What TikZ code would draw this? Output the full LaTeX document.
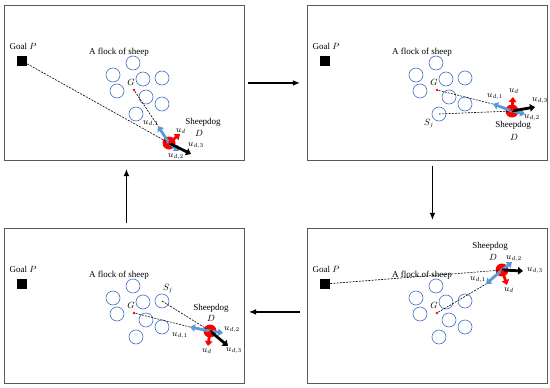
\documentclass[tikz,border=0pt]{standalone}
\usepackage{fontspec}
\setmainfont{Liberation Serif}
\usetikzlibrary{positioning,arrows.meta}
\definecolor{sblue}{HTML}{4472C4}
\definecolor{ablue}{HTML}{5B9BD5}
\definecolor{cframe}{HTML}{595959}
\tikzset{
  panel/.style={draw=cframe, line width=0.9pt, anchor=north west, minimum width=240pt, minimum height=155pt, inner sep=0pt},
  sheep/.style={circle, draw=sblue, line width=0.6pt, minimum size=14pt, inner sep=0pt},
  goal/.style={fill=black, minimum size=10pt, inner sep=0pt},
  dog/.style={circle, fill=red, minimum size=13pt, inner sep=0pt},
  cen/.style={circle, fill=red, minimum size=2.8pt, inner sep=0pt},
  lbl/.style={font=\fontsize{9}{10}\selectfont, inner sep=0.5pt},
  guide/.style={dash pattern=on 2pt off 1.2pt, line width=0.6pt},
  vel/.style={-{Triangle[length=5pt,width=7.5pt]}, line width=2.8pt},
  flow/.style={-{Latex[length=2.5mm,width=2mm]}, line width=1.2pt},
}
% goal, flock and centre G of one panel
\newcommand{\flock}{%
  \node[lbl] (goallbl) at (19,41) {Goal $P$};
  \node[goal] (goal) at (18,56) {};
  \node[lbl] (flocklbl) at (115,47) {A flock of sheep};
  \foreach \x/\y [count=\i] in {129/58,109/70,139/74,158/73,113/86,142/92,158/99,132/109}
    \node[sheep] (s\i) at (\x,\y) {};
  \node[cen] (g) at (130,85) {};
  \node[lbl] (glbl) at (127,77) {$G$};
}

\begin{document}
\begin{tikzpicture}[x=1pt, y=-1pt]
  \useasboundingbox (0,0) rectangle (550,388);
  % panel 1
  \begin{scope}[shift={(4,5)}]
    \node[panel] (p1) at (0,0) {};
    \flock
    \node[dog] (dog) at (165,138) {};
    \coordinate (h1) at (154,121); \coordinate (h2) at (175,146);
    \coordinate (h3) at (187,149); \coordinate (hd) at (176,129);
    \draw[guide] (goal) -- (dog.center);
    \draw[guide] (g) -- (h1);
    \draw[vel, ablue] (dog.center) -- (h1);
    \draw[vel, ablue] (dog.center) -- (h2);
    \draw[vel, black] (dog.center) -- (h3);
    \draw[vel, red] (dog.center) -- (hd);
    \node[lbl] (l1) at (147,119) {$u_{d,1}$};
    \node[lbl] (l2) at (172,152) {$u_{d,2}$};
    \node[lbl] (l3) at (192,141) {$u_{d,3}$};
    \node[lbl] (ld) at (177,126) {$u_{d}$};
    \node[lbl] (dlbl) at (199,117) {Sheepdog};
    \node[lbl] (dname) at (195,128) {$D$};
  \end{scope}
  % panel 2
  \begin{scope}[shift={(307,5)}]
    \node[panel] (p2) at (0,0) {};
    \flock
    \node[dog] (dog) at (205,106) {};
    \coordinate (h1) at (186,99); \coordinate (h2) at (218,109);
    \coordinate (h3) at (228,102); \coordinate (hd) at (206,92);
    \draw[guide] (g) -- (h1);
    \draw[guide] (s8.center) -- (dog.center);
    \draw[vel, ablue] (dog.center) -- (h1);
    \draw[vel, ablue] (dog.center) -- (h2);
    \draw[vel, black] (dog.center) -- (h3);
    \draw[vel, red] (dog.center) -- (hd);
    \node[lbl] (l1) at (188,92) {$u_{d,1}$};
    \node[lbl] (l2) at (225,113) {$u_{d,2}$};
    \node[lbl] (l3) at (233,96) {$u_{d,3}$};
    \node[lbl] (ld) at (207,86) {$u_{d}$};
    \node[lbl] (dlbl) at (206,120) {Sheepdog};
    \node[lbl] (dname) at (207,132) {$D$};
    \node[lbl] (sj) at (122,119) {$S_j$};
  \end{scope}
  % panel 3
  \begin{scope}[shift={(307,228)}]
    \node[panel] (p3) at (0,0) {};
    \flock
    \node[dog] (dog) at (195,42) {};
    \coordinate (h1) at (179,56); \coordinate (h2) at (205,34);
    \coordinate (h3) at (216,43); \coordinate (hd) at (200,57);
    \draw[guide] (goal) -- (dog.center);
    \draw[guide] (g) -- (h1);
    \draw[vel, ablue] (dog.center) -- (h1);
    \draw[vel, ablue] (dog.center) -- (h2);
    \draw[vel, black] (dog.center) -- (h3);
    \draw[vel, red] (dog.center) -- (hd);
    \node[lbl] (l1) at (171,52) {$u_{d,1}$};
    \node[lbl] (l2) at (207,31) {$u_{d,2}$};
    \node[lbl] (l3) at (228,43) {$u_{d,3}$};
    \node[lbl] (ld) at (202,62) {$u_{d}$};
    \node[lbl] (dlbl) at (183,18) {Sheepdog};
    \node[lbl] (dname) at (186,29) {$D$};
  \end{scope}
  % panel 4
  \begin{scope}[shift={(4,228)}]
    \node[panel] (p4) at (0,0) {};
    \flock
    \node[dog] (dog) at (206,103) {};
    \coordinate (h1) at (186,99); \coordinate (h2) at (219,105);
    \coordinate (h3) at (224,118); \coordinate (hd) at (204,118);
    \draw[guide] (g) -- (h1);
    \draw[guide] (s4.center) -- (dog.center);
    \draw[vel, ablue] (dog.center) -- (h1);
    \draw[vel, ablue] (dog.center) -- (h2);
    \draw[vel, black] (dog.center) -- (h3);
    \draw[vel, red] (dog.center) -- (hd);
    \node[lbl] (l1) at (176,108) {$u_{d,1}$};
    \node[lbl] (l2) at (228,102) {$u_{d,2}$};
    \node[lbl] (l3) at (230,123) {$u_{d,3}$};
    \node[lbl] (ld) at (203,123) {$u_{d}$};
    \node[lbl] (dlbl) at (207,80) {Sheepdog};
    \node[lbl] (dname) at (207,90) {$D$};
    \node[lbl] (sj) at (164,61) {$S_j$};
  \end{scope}
  % cycle between the panels
  \draw[flow, shorten <=3pt, shorten >=7pt] (p1.east) -- (p2.west);
  \draw[flow, shorten <=5pt, shorten >=8pt] ([xshift=5pt]p2.south) -- ([xshift=5pt]p3.north);
  \draw[flow, shorten <=7pt, shorten >=4pt] ([yshift=-6pt]p3.west) -- ([yshift=-6pt]p4.east);
  \draw[flow, shorten <=5pt, shorten >=8pt] ([xshift=2pt]p4.north) -- ([xshift=2pt]p1.south);
\end{tikzpicture}
\end{document}
